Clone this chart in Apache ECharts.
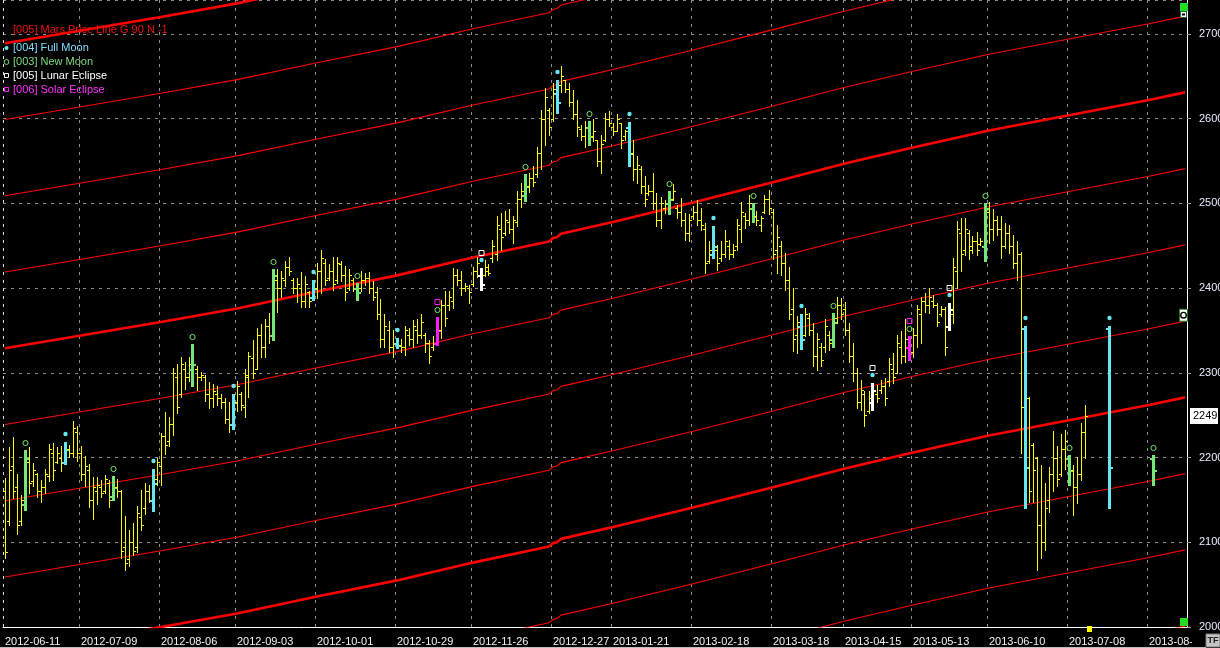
<!DOCTYPE html>
<html>
<head>
<meta charset="utf-8">
<title>Mars Price Lines</title>
<script src="https://cdn.jsdelivr.net/npm/echarts@6.0.0/dist/echarts.min.js"></script>
<style>
  html, body { margin: 0; padding: 0; background: #000; }
  #chart { width: 1220px; height: 648px; }
</style>
</head>
<body>
<div id="chart"></div>
<script>
// ---- calendar ----
const firstDay = '2012-06-11';
const dayCount = 296;
const holidays = ['2012-06-12', '2012-08-15', '2012-11-05', '2012-12-24', '2012-12-25',
  '2012-12-26', '2012-12-31', '2013-01-01', '2013-03-29', '2013-04-01', '2013-05-01',
  '2013-05-09', '2013-05-10', '2013-05-20'];
const tickDates = ['2012-06-11', '2012-07-09', '2012-08-06', '2012-09-03', '2012-10-01',
  '2012-10-29', '2012-11-26', '2012-12-27', '2013-01-21', '2013-02-18', '2013-03-18',
  '2013-04-15', '2013-05-13', '2013-06-10', '2013-07-08', '2013-08-05'];

// ---- daily bars [open, close, low, high] ----
const bars = [
  [2160,2088,2081,2176],[2125,2185,2120,2213],[2190,2160,2152,2224],[2165,2120,2110,2180],[2125,2150,2120,2156],
  [2145,2200,2138,2209],[2195,2170,2158,2212],[2172,2185,2166,2193],[2180,2160,2154,2182],[2160,2165,2147,2173],
  // 10
  [2165,2180,2158,2187],[2178,2210,2172,2216],[2205,2185,2174,2217],[2195,2205,2193,2213],[2200,2195,2184,2214],
  [2195,2210,2192,2218],[2210,2205,2201,2215],[2205,2235,2201,2243],[2230,2205,2196,2237],[2205,2180,2174,2214],
  // 20
  [2180,2190,2166,2202],[2185,2150,2142,2192],[2150,2165,2128,2177],[2160,2168,2145,2177],[2165,2158,2154,2174],
  [2160,2175,2158,2179],[2170,2150,2142,2174],[2155,2165,2150,2178],[2165,2160,2154,2175],[2160,2090,2081,2162],
  // 30
  [2095,2075,2067,2131],[2080,2100,2072,2115],[2100,2090,2085,2123],[2095,2135,2089,2143],[2130,2120,2115,2162],
  [2140,2160,2133,2170],[2160,2150,2147,2168],[2150,2170,2137,2187],[2175,2195,2168,2200],[2190,2225,2168,2229],
  // 40
  [2225,2215,2204,2254],[2220,2240,2214,2248],[2240,2300,2227,2306],[2295,2260,2252,2310],[2275,2310,2272,2319],
  [2305,2295,2281,2313],[2295,2310,2290,2319],[2305,2310,2285,2334],[2305,2295,2280,2308],[2295,2297,2292,2301],
  // 50
  [2295,2275,2267,2298],[2275,2270,2258,2289],[2270,2278,2260,2287],[2275,2270,2262,2285],[2270,2265,2259,2275],
  [2265,2245,2241,2270],[2245,2240,2230,2265],[2240,2265,2234,2275],[2265,2285,2255,2290],[2275,2262,2256,2277],
  // 60
  [2260,2298,2248,2304],[2295,2320,2272,2325],[2318,2300,2294,2339],[2305,2345,2304,2353],[2345,2330,2319,2358],
  [2330,2355,2319,2363],[2355,2345,2335,2371],[2345,2415,2339,2422],[2410,2400,2372,2422],[2400,2412,2390,2420],
  // 70
  [2410,2425,2402,2432],[2425,2420,2416,2437],[2410,2400,2394,2412],[2400,2405,2384,2412],[2400,2385,2378,2419],
  [2385,2405,2378,2414],[2395,2385,2378,2396],[2390,2400,2386,2409],[2400,2420,2388,2430],[2420,2435,2394,2445],
  // 80
  [2430,2410,2404,2434],[2412,2420,2410,2428],[2420,2405,2398,2437],[2410,2430,2406,2437],[2428,2415,2408,2432],
  [2415,2395,2386,2426],[2400,2415,2398,2422],[2410,2400,2396,2412],[2400,2395,2386,2406],[2400,2410,2396,2420],
  // 90
  [2410,2412,2404,2418],[2412,2400,2394,2419],[2400,2390,2386,2408],[2395,2370,2363,2401],[2370,2340,2331,2387],
  [2340,2355,2331,2369],[2350,2330,2325,2361],[2330,2335,2319,2351],[2335,2333,2329,2341],[2333,2330,2325,2340],
  // 100
  [2330,2350,2321,2355],[2345,2340,2333,2353],[2340,2355,2330,2362],[2350,2345,2335,2363],[2345,2360,2341,2369],
  [2345,2335,2325,2347],[2335,2320,2311,2339],[2330,2335,2327,2343],[2335,2350,2333,2366],[2350,2380,2341,2386],
  // 110
  [2380,2365,2355,2396],[2380,2390,2374,2396],[2385,2415,2376,2424],[2415,2410,2404,2422],[2410,2400,2392,2420],
  [2400,2402,2396,2406],[2400,2395,2382,2404],[2405,2420,2403,2425],[2420,2430,2413,2437],[2415,2405,2398,2424],
  // 120
  [2415,2425,2414,2433],[2420,2418,2416,2428],[2435,2450,2431,2457],[2440,2475,2433,2485],[2470,2460,2445,2489],
  [2465,2480,2463,2491],[2478,2470,2465,2493],[2470,2480,2453,2485],[2478,2505,2473,2514],[2505,2515,2496,2524],
  // 130
  [2510,2520,2503,2535],[2520,2530,2513,2536],[2530,2525,2520,2544],[2535,2560,2531,2567],[2560,2600,2540,2610],
  [2600,2625,2569,2636],[2610,2590,2581,2613],[2600,2635,2597,2642],[2630,2620,2607,2645],[2640,2650,2632,2662],
  // 140
  [2645,2635,2631,2646],[2635,2620,2615,2642],[2620,2605,2599,2634],[2605,2590,2579,2622],[2588,2580,2575,2593],
  [2580,2590,2567,2597],[2590,2580,2569,2597],[2580,2585,2573,2600],[2575,2550,2544,2575],[2550,2570,2536,2581],
  // 150
  [2575,2600,2573,2607],[2600,2595,2591,2609],[2590,2585,2581,2595],[2585,2600,2585,2606],[2595,2575,2565,2595],
  [2580,2585,2575,2587],[2590,2560,2544,2596],[2560,2540,2528,2575],[2540,2545,2524,2556],[2540,2520,2512,2544],
  // 160
  [2520,2505,2497,2532],[2512,2515,2510,2522],[2515,2500,2493,2536],[2500,2480,2473,2512],[2480,2500,2471,2508],
  [2495,2500,2489,2504],[2500,2505,2488,2515],[2505,2515,2504,2523],[2495,2490,2483,2498],[2490,2480,2473,2506],
  // 170
  [2480,2465,2457,2489],[2465,2480,2455,2487],[2485,2490,2481,2497],[2490,2480,2475,2504],[2480,2475,2469,2495],
  [2470,2430,2418,2477],[2432,2445,2430,2455],[2440,2450,2435,2473],[2445,2430,2421,2451],[2435,2440,2432,2455],
  // 180
  [2440,2455,2437,2468],[2450,2440,2434,2457],[2440,2445,2437,2452],[2450,2475,2445,2481],[2470,2490,2454,2502],
  [2485,2480,2471,2489],[2480,2500,2475,2510],[2495,2485,2478,2500],[2485,2480,2475,2491],[2475,2483,2467,2485],
  // 190
  [2490,2505,2489,2510],[2505,2495,2487,2516],[2490,2440,2434,2493],[2445,2460,2418,2474],[2450,2430,2416,2455],
  [2430,2410,2398,2441],[2410,2370,2363,2425],[2375,2340,2326,2400],[2345,2360,2323,2367],[2355,2340,2328,2369],
  // 200
  [2345,2370,2343,2376],[2365,2350,2345,2371],[2350,2320,2308,2359],[2320,2340,2303,2347],[2330,2315,2308,2335],
  [2330,2355,2325,2363],[2345,2335,2327,2349],[2340,2360,2331,2371],[2365,2380,2359,2390],[2380,2370,2363,2388],
  // 210
  [2375,2350,2345,2384],[2350,2320,2313,2359],[2320,2300,2290,2335],[2300,2265,2258,2306],[2265,2280,2256,2292],
  [2275,2250,2237,2278],[2255,2270,2252,2279],[2265,2280,2256,2288],[2275,2270,2266,2286],[2280,2285,2276,2292],
  // 220
  [2285,2270,2262,2294],[2290,2310,2284,2317],[2305,2295,2288,2323],[2300,2335,2300,2345],[2330,2320,2311,2349],
  [2320,2340,2313,2363],[2330,2325,2315,2343],[2325,2345,2319,2353],[2345,2375,2331,2380],[2370,2385,2335,2390],
  // 230
  [2385,2380,2372,2394],[2380,2390,2371,2400],[2385,2380,2378,2392],[2380,2360,2355,2382],[2370,2375,2367,2379],
  [2375,2330,2321,2378],[2355,2375,2351,2382],[2370,2425,2359,2435],[2420,2470,2400,2479],[2465,2440,2420,2483],
  // 240
  [2445,2470,2439,2483],[2465,2445,2434,2469],[2450,2455,2441,2461],[2455,2445,2439,2466],[2452,2455,2451,2459],
  [2450,2495,2432,2500],[2490,2470,2453,2502],[2470,2480,2457,2493],[2480,2470,2463,2485],[2470,2450,2435,2485],
  // 250
  [2450,2465,2447,2477],[2465,2450,2441,2475],[2450,2430,2424,2463],[2430,2440,2410,2455],[2440,2260,2205,2443],
  [2353,2189,2140,2355],[2270,2160,2148,2272],[2215,2185,2148,2217],[2200,2120,2067,2201],[2120,2100,2081,2191],
  // 260
  [2100,2140,2091,2170],[2150,2180,2136,2189],[2180,2200,2160,2231],[2200,2175,2166,2214],[2180,2210,2178,2228],
  [2210,2220,2187,2232],[2200,2185,2168,2203],[2185,2165,2132,2191],[2165,2180,2146,2201],[2180,2230,2174,2241],
  // 270
  [2230,2249,2199,2262]
];
// projected moon bars after the last trading day [index, open, close, low, high]
const projectedBars = [[276, 2353, 2189, 2140, 2355], [287, 2200, 2185, 2168, 2203]];

// moon phases / eclipses [bar index, kind]
const moonEvents = [[5,'new'],[15,'full'],[27,'new'],[37,'full'],[47,'new'],[57,'full'],[67,'new'],
  [77,'full'],[88,'new'],[98,'full'],[108,'solar'],[119,'lunar'],[130,'new'],[138,'full'],[146,'new'],
  [156,'full'],[166,'new'],[177,'full'],[187,'new'],[199,'full'],[207,'new'],[217,'lunar'],[226,'solar'],
  [236,'lunar'],[245,'new'],[255,'full'],[266,'new'],[276,'full'],[287,'new']];

// Mars price line (base level) at bar index
const marsBase = [[0,2329],[19,2344],[39,2360],[58,2376],[78,2396],[98,2415],[117,2436],[136,2455],
  [137,2459],[138,2460],[139,2464],[152,2478],[172,2501],[192,2525],[210,2547],[227,2566],[246,2586],
  [266,2604],[286,2622],[295,2631]];
const marsOffsets = [-630, -540, -450, -360, -270, -180, -90, 0, 90, 180, 270, 360];
const lastPrice = 2249;

// ---- build calendar ----
function tradingDays() {
  const out = [];
  const d = new Date(firstDay + 'T00:00:00Z');
  while (out.length < dayCount) {
    const wd = d.getUTCDay();
    const s = d.toISOString().slice(0, 10);
    if (wd !== 0 && wd !== 6 && holidays.indexOf(s) < 0) out.push(s);
    d.setUTCDate(d.getUTCDate() + 1);
  }
  return out;
}
const dates = tradingDays();
const tickIdx = new Set(tickDates.map(t => dates.indexOf(t)));

const FONT = 'Arial, "Liberation Sans", sans-serif';
const COL = { full: '#66e6f2', new: '#76e676', solar: '#ff1aff', lunar: '#ffffff', bar: '#ffff00' };

const kindOf = {};
moonEvents.forEach(e => { kindOf[e[0]] = e[1]; });

const barData = bars.map((b, i) => [i].concat(b)).concat(projectedBars);

function renderBar(params, api) {
  const i = api.value(0);
  const pH = api.coord([i, api.value(4)]);
  const x = Math.floor(pH[0]);
  const yH = Math.round(pH[1]);
  const yL = Math.round(api.coord([i, api.value(3)])[1]);
  const yO = Math.round(api.coord([i, api.value(1)])[1]);
  const yC = Math.round(api.coord([i, api.value(2)])[1]);
  const kind = kindOf[i];
  const color = kind ? COL[kind] : COL.bar;
  const w = kind ? 3 : 1;
  const x0 = kind ? x - 1 : x;
  const th = kind ? 2 : 1;
  const ch = [
    { type: 'rect', shape: { x: x0, y: yH, width: w, height: Math.max(1, yL - yH + 1) }, style: { fill: color } },
    { type: 'rect', shape: { x: x0 - 2, y: yO, width: 2, height: th }, style: { fill: color } },
    { type: 'rect', shape: { x: x0 + w, y: yC, width: 2, height: th }, style: { fill: color } }
  ];
  const cx = x + 0.5;
  if (kind === 'full' || kind === 'lunar') {
    ch.push({ type: 'circle', shape: { cx: cx, cy: yH - 8, r: 2.2 }, style: { fill: COL.full } });
  }
  if (kind === 'new' || kind === 'solar') {
    ch.push({ type: 'circle', shape: { cx: cx, cy: yH - 7, r: 2.6 }, style: { fill: 'none', stroke: COL.new, lineWidth: 1 } });
  }
  if (kind === 'solar' || kind === 'lunar') {
    ch.push({ type: 'rect', shape: { x: cx - 2.5, y: yH - 17.5, width: 5, height: 5 },
      style: { fill: 'none', stroke: kind === 'solar' ? COL.solar : COL.lunar, lineWidth: 1 } });
  }
  return { type: 'group', children: ch };
}

const marsSeries = marsOffsets.map(off => ({
  type: 'line',
  data: marsBase.map(p => [p[0], p[1] + off]),
  symbol: 'none',
  silent: true,
  z: 2,
  lineStyle: { color: '#ff0000', width: off % 360 === 0 ? 2.6 : 1.1 }
}));

const gridSplitColors = ['#dcdcdc'].concat(new Array(20).fill('#8f8f8f'));

const chart = echarts.init(document.getElementById('chart'), null, { renderer: 'canvas' });
chart.setOption({
  backgroundColor: '#000000',
  animation: false,
  grid: { left: 3, top: 0, width: 1184, height: 627, containLabel: false, outerBoundsMode: 'none' },
  xAxis: {
    type: 'category',
    data: dates,
    boundaryGap: true,
    axisLine: { show: true, lineStyle: { color: '#ffffff', width: 1 } },
    axisTick: { show: false, interval: i => tickIdx.has(i) },
    axisLabel: {
      interval: i => tickIdx.has(i),
      color: '#f2f2f2', fontSize: 11, fontFamily: FONT, align: 'left', margin: 9
    },
    splitLine: {
      show: true,
      interval: i => tickIdx.has(i),
      lineStyle: { color: gridSplitColors, type: [3, 5], width: 1 }
    }
  },
  yAxis: {
    type: 'value',
    position: 'right',
    min: 2000, max: 2740, interval: 100,
    axisLine: { show: true, lineStyle: { color: '#ffffff', width: 1 } },
    axisTick: { show: true, length: 4, lineStyle: { color: '#a0a0a0' } },
    axisLabel: { color: '#e8eeff', fontSize: 11, fontFamily: FONT, margin: 12, showMaxLabel: false,
      formatter: v => String(v) },
    splitLine: { show: true, lineStyle: { color: '#8f8f8f', type: [3, 5], width: 1 } }
  },
  series: marsSeries.concat([
    {
      type: 'custom',
      renderItem: renderBar,
      data: barData,
      encode: { x: 0, y: [1, 2, 3, 4] },
      silent: true,
      z: 3
    }
  ])
});

// legend, price box, corner widgets and the clip of the last date label
const priceY = chart.convertToPixel({ yAxisIndex: 0 }, lastPrice);
const widgetY = chart.convertToPixel({ yAxisIndex: 0 }, 2368);
const nowX = chart.convertToPixel({ xAxisIndex: 0 }, dates[271]);
const legendRows = [
  { y: 30, text: '[005] Mars Price Line G 90 N -1', color: '#ee1010', icon: null },
  { y: 48, text: '[004] Full Moon', color: '#7fdcff', icon: 'full' },
  { y: 62, text: '[003] New Moon', color: '#7fdc7f', icon: 'new' },
  { y: 76, text: '[005] Lunar Eclipse', color: '#ffffff', icon: 'lunar' },
  { y: 90, text: '[006] Solar Eclipse', color: '#ff33ff', icon: 'solar' }
];
const g = [];
legendRows.forEach(r => {
  g.push({ type: 'text', left: 13, top: r.y - 6, z: 60,
    style: { text: r.text, fill: r.color, font: '11px ' + FONT } });
  if (r.icon === 'full') g.push({ type: 'circle', shape: { cx: 6.5, cy: r.y, r: 2 }, style: { fill: COL.full }, z: 60 });
  if (r.icon === 'new') g.push({ type: 'circle', shape: { cx: 6.5, cy: r.y, r: 2.4 }, style: { fill: 'none', stroke: COL.new }, z: 60 });
  if (r.icon === 'lunar' || r.icon === 'solar') g.push({ type: 'rect', shape: { x: 4.5, y: r.y - 2.5, width: 4, height: 4 },
    style: { fill: 'none', stroke: r.icon === 'lunar' ? '#ffffff' : COL.solar }, z: 60 });
});
g.push(
  { type: 'rect', shape: { x: 1190, y: Math.round(priceY) - 8, width: 28, height: 16 }, style: { fill: '#ffffff' }, z: 58 },
  { type: 'text', x: 1193, y: Math.round(priceY), z: 59,
    style: { text: String(lastPrice), fill: '#000000', font: '11px ' + FONT, verticalAlign: 'middle' } },
  { type: 'rect', shape: { x: Math.round(nowX) - 2, y: 626, width: 5, height: 6 }, style: { fill: '#ffff00' }, z: 58 },
  { type: 'rect', shape: { x: 1192, y: 634, width: 28, height: 14 }, style: { fill: '#000000' }, z: 50 },
  { type: 'rect', shape: { x: 1206, y: 634, width: 14, height: 13 }, style: { fill: '#c4c4c4', stroke: '#7a7a7a' }, z: 55 },
  { type: 'text', x: 1213, y: 641, z: 56, style: { text: 'TF', fill: '#202020', font: 'bold 9px ' + FONT, align: 'center', verticalAlign: 'middle' } },
  { type: 'rect', shape: { x: 0, y: 647, width: 1206, height: 1 }, style: { fill: '#bdbdbd' }, z: 50 },
  { type: 'rect', shape: { x: 1180, y: 3, width: 8, height: 8 }, style: { fill: '#22dd22' }, z: 55 },
  { type: 'rect', shape: { x: 1180.5, y: 11.5, width: 6, height: 6 }, style: { fill: '#ffffff', stroke: '#2a6a2a' }, z: 55 },
  { type: 'rect', shape: { x: 1182, y: 13.5, width: 3, height: 2 }, style: { fill: '#000000' }, z: 56 },
  { type: 'rect', shape: { x: 1180, y: 618, width: 8, height: 8 }, style: { fill: '#22dd22' }, z: 55 },
  { type: 'rect', shape: { x: 1179.5, y: widgetY - 6, width: 8, height: 12 }, style: { fill: '#ffffff', stroke: '#1f7a1f' }, z: 55 },
  { type: 'circle', shape: { cx: 1183.5, cy: widgetY, r: 2.8 }, style: { fill: '#ffffff', stroke: '#000000', lineWidth: 1.4 }, z: 56 }
);
chart.setOption({ graphic: g });
</script>
</body>
</html>
